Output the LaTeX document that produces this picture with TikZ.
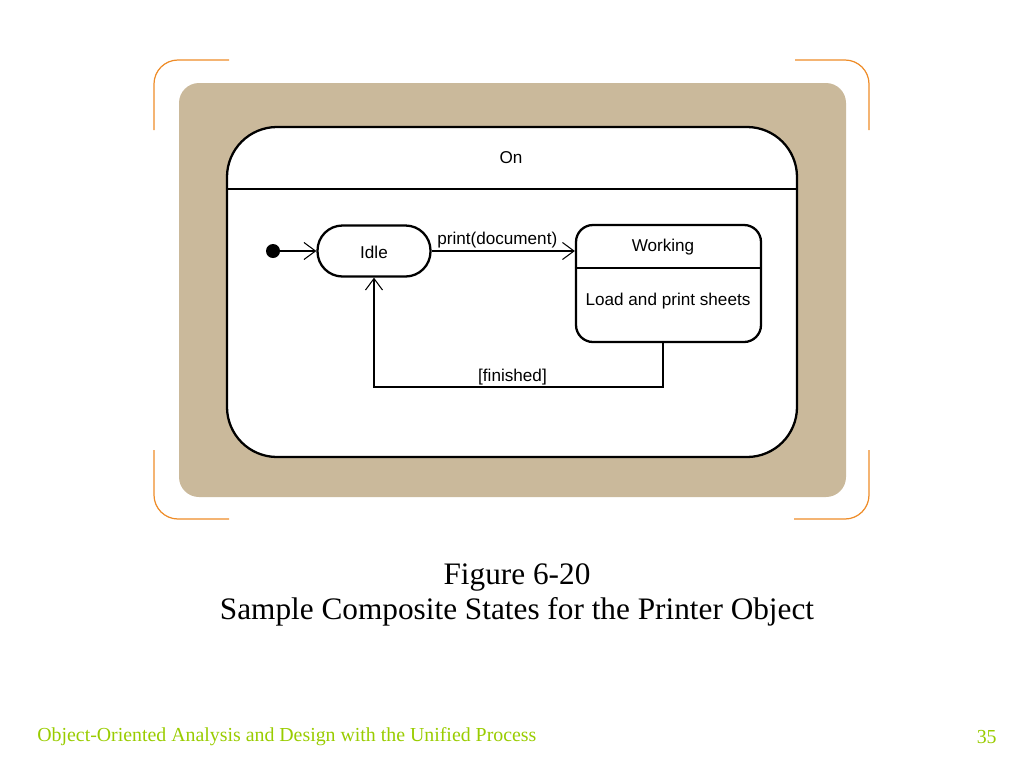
\documentclass[tikz,border=0pt]{standalone}
\usepackage{fontspec}
\setmainfont{Liberation Serif}
\newfontfamily\diagfont{Liberation Sans}
\usepackage{xcolor}
\usetikzlibrary{calc, arrows.meta}

\definecolor{tan}{RGB}{202,185,155}
\definecolor{bracket}{RGB}{238,140,40}
\definecolor{footer}{RGB}{153,204,0}

\tikzset{
	state/.style = {draw, line width = 1.3pt, fill = white},
	trans/.style = {draw, line width = 0.6pt, -{Straight Barb[length = 2.3mm, width = 3.4mm]}},
	lbl/.style = {font = \diagfont\fontsize{9.75}{11}\selectfont, inner sep = 1pt},
	bracket/.style = {draw = bracket, line width = 0.7pt, double = white, double distance = 0.6pt}
}

\begin{document}
\begin{tikzpicture}[x = 0.02cm, y = -0.02cm]
					\def\u{0.02cm}
					\useasboundingbox (0,0) rectangle (1024,768);

					\begin{scope}[bracket]
						\draw (154,130) -- (154,84) arc (180:270:24) -- (229,60);
						\draw (795,60) -- (845,60) arc (-90:0:24) -- (869,130);
						\draw (869,450) -- (869,495) arc (0:90:24) -- (794,519);
						\draw (229,519) -- (178,519) arc (90:180:24) -- (154,450);
					\end{scope}

					\fill [tan, rounded corners = 20*\u] (179,83) rectangle (846,497);

					\node [state, rounded corners = 50*\u, minimum width = 570*\u, minimum height = 330*\u] (On) at (512,292) {};
					\draw [line width = 1.3pt] (On.west |- 0,189) -- (On.east |- 0,189);
					\node [lbl] (OnName) at (511,158) {On};

					\node [state, rounded corners = 25*\u, minimum width = 113*\u, minimum height = 51*\u] (Idle) at (374,251) {};
					\node [lbl] (IdleName) at (374,252) {Idle};

					\node [state, rounded corners = 17*\u, minimum width = 185*\u, minimum height = 117*\u] (Working) at (668.5,283.5) {};
					\draw [line width = 1.3pt] (Working.west |- 0,268) -- (Working.east |- 0,268);
					\node [lbl] (WorkingName) at (663,247) {Working};
					\node [lbl] (WorkingDo) at (668,301) {Load and print sheets};

					\node [circle, fill, inner sep = 0pt, minimum size = 14*\u] (init) at (273,251) {};
					\coordinate (fin) at (663,387);

					\begin{scope}
						\draw [trans] (init) -- (Idle);
						\draw [trans] (Idle) -- (Idle -| Working.west) node [lbl, midway, above, xshift = -6*\u, yshift = 0.5pt] {print(document)};
						\draw [trans] (Working.south -| fin) -- (fin) -- (fin -| Idle.south) node [lbl, midway, above, xshift = -6*\u, yshift = 0pt] {[finished]} -- (Idle.south);
					\end{scope}

					\node [font = \fontsize{17.8}{21}\selectfont] (fig) at (517,577) {Figure 6-20};
					\node [font = \fontsize{17.8}{21}\selectfont] (title) at (517,612) {Sample Composite States for the Printer Object};

					\node [footer, anchor = west, font = \fontsize{11.3}{14}\selectfont, inner sep = 0pt] (course) at (37,737) {Object-Oriented Analysis and Design with the Unified Process};
					\node [footer, anchor = east, font = \fontsize{11.3}{14}\selectfont, inner sep = 0pt] (page) at (997,737) {35};
				\end{tikzpicture}
\end{document}
